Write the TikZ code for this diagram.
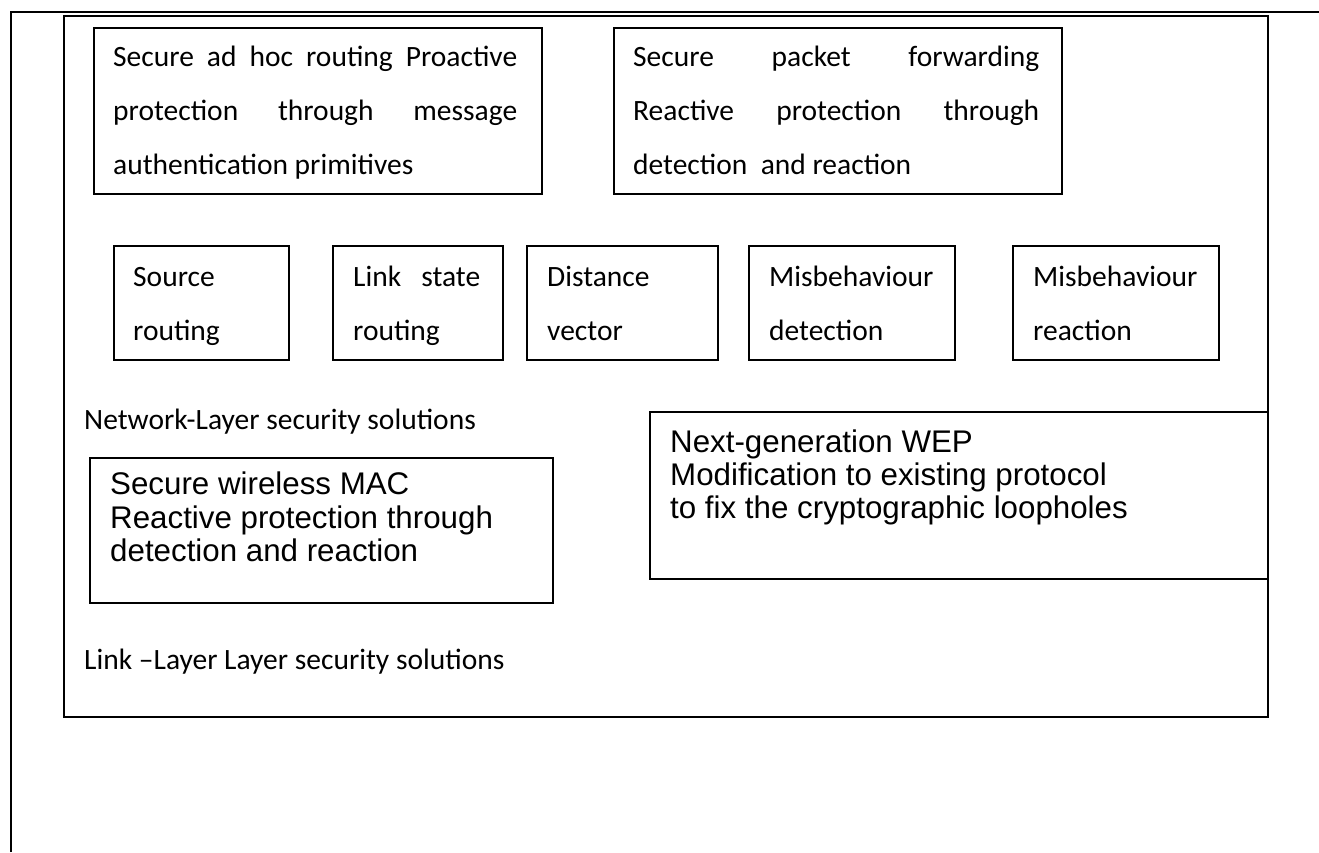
\documentclass[tikz,border=0pt]{standalone}
\usepackage{fontspec}
\setmainfont{Carlito}
\newfontfamily\arialf{Liberation Sans}
\newcommand{\calfont}{\fontsize{29.5}{54}\selectfont}
\newcommand{\arfont}{\arialf\fontsize{31.3}{33}\selectfont}
\begin{document}
\begin{tikzpicture}[x=1pt,y=-1pt,
  box/.style={draw, line width=1.6pt, inner sep=0pt, anchor=north west},
  lbl/.style={anchor=base west, inner sep=0pt, font=\calfont},
  albl/.style={anchor=base west, inner sep=0pt, font=\arfont}]
\useasboundingbox (0,0) rectangle (1319,852);
% outer frame
\coordinate (o1) at (11,852);
\coordinate (o2) at (11,12);
\coordinate (o3) at (1319,12);
\draw[line width=1.8pt] (o1) -- (o2) -- (o3);
% inner frame
\node[box, minimum width=1204, minimum height=701] (inner) at (63,15) {};
% top boxes
\node[box, minimum width=448, minimum height=166] (b1) at (93,27) {};
\node[lbl] (b1a) at (113,66) {\makebox[404pt][s]{Secure ad hoc routing Proactive}};
\node[lbl] (b1b) at (113,120) {\makebox[404pt][s]{protection through message}};
\node[lbl] (b1c) at (113,174) {authentication primitives};
\node[box, minimum width=448, minimum height=166] (b2) at (613,27) {};
\node[lbl] (b2a) at (633,66) {\makebox[406pt][s]{Secure packet forwarding}};
\node[lbl] (b2b) at (633,120) {\makebox[406pt][s]{Reactive protection through}};
\node[lbl] (b2c) at (633,174) {detection\ \ and reaction};
% small boxes
\node[box, minimum width=175, minimum height=114] (s1) at (113,245) {};
\node[lbl] (s1a) at (133,286) {Source};
\node[lbl] (s1b) at (133,340) {routing};
\node[box, minimum width=170, minimum height=114] (s2) at (332,245) {};
\node[lbl] (s2a) at (353,286) {\makebox[127pt][s]{Link state}};
\node[lbl] (s2b) at (353,340) {routing};
\node[box, minimum width=191, minimum height=114] (s3) at (526,245) {};
\node[lbl] (s3a) at (547,286) {Distance};
\node[lbl] (s3b) at (547,340) {vector};
\node[box, minimum width=206, minimum height=114] (s4) at (748,245) {};
\node[lbl] (s4a) at (769,286) {Misbehaviour};
\node[lbl] (s4b) at (769,340) {detection};
\node[box, minimum width=206, minimum height=114] (s5) at (1012,245) {};
\node[lbl] (s5a) at (1033,286) {Misbehaviour};
\node[lbl] (s5b) at (1033,340) {reaction};
% network layer label
\node[lbl] (net) at (84,429) {Network-Layer security solutions};
% MAC box
\node[box, minimum width=463, minimum height=145] (mac) at (89,457) {};
\node[albl] (maca) at (110,494) {Secure wireless MAC};
\node[albl] (macb) at (110,528) {Reactive protection through};
\node[albl] (macc) at (110,561) {detection and reaction};
% WEP box
\node[box, minimum width=618, minimum height=167] (wep) at (649,411) {};
\node[albl] (wepa) at (670,452) {Next-generation WEP};
\node[albl] (wepb) at (670,485) {Modification to existing protocol};
\node[albl] (wepc) at (670,518) {to fix the cryptographic loopholes};
% link layer label
\node[lbl] (link) at (84,669) {Link \textendash Layer Layer security solutions};
\end{tikzpicture}
\end{document}
